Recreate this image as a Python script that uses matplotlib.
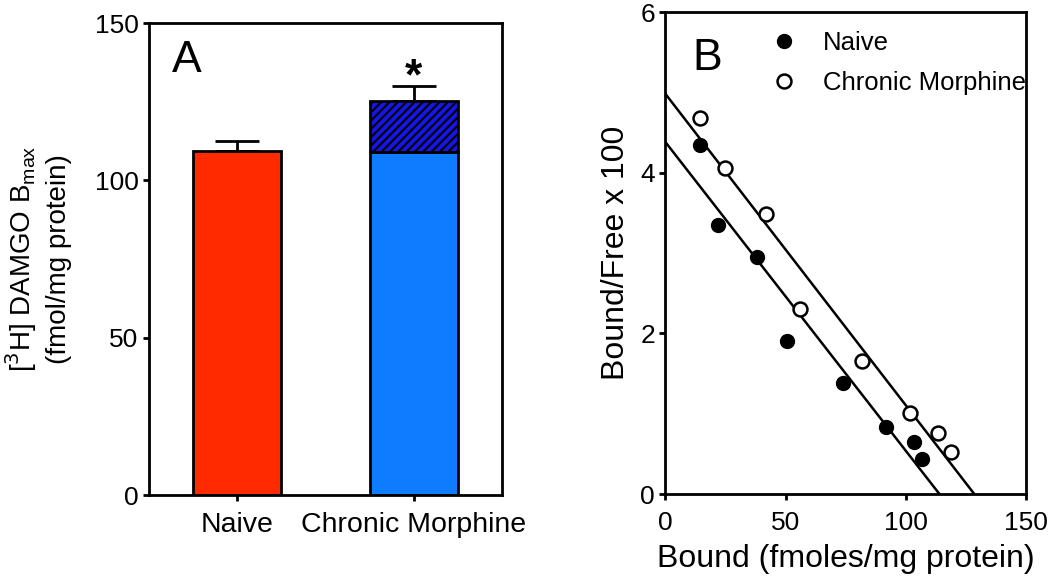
import matplotlib
matplotlib.use("Agg")
import matplotlib.pyplot as plt
import numpy as np

plt.rcParams['font.family'] = ['Liberation Sans', 'DejaVu Sans']
plt.rcParams['hatch.linewidth'] = 1.5

# panel A data
groups = ["Naive", "Chronic Morphine"]
bmax_base = [109.3, 109.1]
bmax_extra = [0.0, 16.2]
bmax_sem = [3.3, 4.7]

# panel B data (Scatchard)
naive_bound = [14.3, 21.9, 38.1, 50.7, 73.9, 91.7, 103.3, 106.7]
naive_bf = [4.35, 3.35, 2.95, 1.91, 1.38, 0.84, 0.645, 0.43]
chronic_bound = [14.3, 24.6, 41.7, 56.0, 81.9, 101.8, 113.6, 118.8]
chronic_bf = [4.68, 4.06, 3.48, 2.30, 1.66, 1.01, 0.76, 0.52]
# fitted lines: (y intercept, x intercept)
naive_fit = (4.38, 114.0)
chronic_fit = (4.98, 128.5)

fig = plt.figure(figsize=(10.5, 5.81), dpi=100)

axA = fig.add_axes([0.1419, 0.148, 0.3362, 0.812])
x = np.arange(len(groups))
colors = ["#FF2A00", "#0F7BFF"]
axA.bar(x, bmax_base, width=0.5, color=colors, edgecolor="black", linewidth=2, zorder=2)
axA.bar(x[1], bmax_extra[1], bottom=bmax_base[1], width=0.5, color="#1515E6",
        edgecolor="black", linewidth=2, hatch="////", zorder=2)
tops = np.array(bmax_base) + np.array(bmax_extra)
axA.errorbar(x, tops, yerr=[np.zeros(2), bmax_sem], fmt="none", ecolor="black",
             elinewidth=2, capsize=16, capthick=2, zorder=1)
axA.text(x[1], tops[1] + bmax_sem[1] - 1.0, "*", ha="center", va="baseline", fontsize=32, fontweight="bold")
axA.text(0.065, 0.896, "A", transform=axA.transAxes, fontsize=32, va="baseline", ha="left")
axA.set_xlim(-0.5, 1.5)
axA.set_ylim(0, 150)
axA.set_yticks([0, 50, 100, 150])
axA.set_xticks(x)
axA.set_xticklabels(groups, fontsize=20.5)
axA.tick_params(axis="y", labelsize=19, width=2, length=4.5, pad=3, direction="out")
axA.tick_params(axis="x", width=2, length=4.5, pad=8, direction="out")
axA.set_ylabel("[$^3$H] DAMGO B$_{\\mathregular{max}}$\n(fmol/mg protein)", fontsize=20,
               labelpad=16, linespacing=1.35)
for s in axA.spines.values():
    s.set_linewidth(2)

axB = fig.add_axes([0.6338, 0.1497, 0.3433, 0.8296])
axB.plot([0, naive_fit[1]], [naive_fit[0], 0], color="black", linewidth=1.8)
axB.plot([0, chronic_fit[1]], [chronic_fit[0], 0], color="black", linewidth=1.8)
axB.plot(naive_bound, naive_bf, "o", color="black", markersize=10, label="Naive", clip_on=False)
axB.plot(chronic_bound, chronic_bf, "o", markerfacecolor="white", markeredgecolor="black",
         markeredgewidth=1.8, markersize=10, label="Chronic Morphine", clip_on=False)
axB.set_xlim(0, 150)
axB.set_ylim(0, 6)
axB.set_xticks([0, 50, 100, 150])
axB.set_yticks([0, 2, 4, 6])
axB.tick_params(labelsize=19, width=2, length=4.5, direction="out")
axB.tick_params(axis="x", pad=8)
axB.tick_params(axis="y", pad=3)
axB.set_xlabel("Bound (fmoles/mg protein)", fontsize=23, labelpad=6)
axB.set_ylabel("Bound/Free x 100", fontsize=23, labelpad=7)
axB.text(0.074, 0.880, "B", transform=axB.transAxes, fontsize=32, va="baseline", ha="left")
axB.legend(loc="upper left", bbox_to_anchor=(0.216, 0.993), frameon=False, fontsize=18.5,
           handletextpad=0.5, borderaxespad=0.2, labelspacing=0.62)
for s in axB.spines.values():
    s.set_linewidth(2)

fig.savefig("out.png", dpi=100)
